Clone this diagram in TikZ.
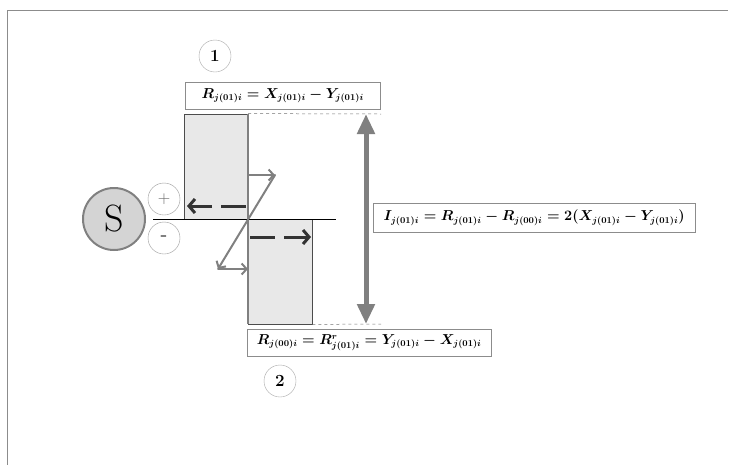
\documentclass[tikz,border=0pt]{standalone}
\usepackage{amsmath}
\usetikzlibrary{positioning, shapes, arrows.meta}

\begin{document}
\begin{tikzpicture}[x=1pt, y=-1pt,
    eqbox/.style={draw=black!45, fill=white, inner sep=0pt, minimum height=27,
        font=\boldmath\fontsize{13.5}{15}\selectfont},
    numcirc/.style={draw=black!35, circle, inner sep=0pt, minimum size=32,
        font=\bfseries\fontsize{17}{18}\selectfont},
    signcirc/.style={draw=black!40, circle, inner sep=0pt, minimum size=32,
        font=\fontsize{18}{18}\selectfont, text=black!60},
    bar/.style={draw=black!70, fill=black!9, inner sep=0pt, minimum width=64, minimum height=105},
    darrow/.style={draw=black!80, line width=3pt, dash pattern=on 25pt off 9pt,
        -{Straight Barb[length=6pt, width=14pt, line width=3pt]}},
    garrow/.style={draw=black!50, line width=2pt, line cap=round,
        -{Straight Barb[length=5pt, width=11pt, line width=2pt]}}]
    \useasboundingbox (0,0) rectangle (729,464);

    % frame
    \draw[black!45, line width=1pt] (7,470) -- (7,10) -- (728,10);

    % bars
    \node[bar, anchor=south east] (up) at (248,219) {};
    \node[bar, anchor=north west] (down) at (248,219) {};
    \draw[black!50, line width=1.5pt] (up.north east) -- (down.south west);
    \coordinate (mid) at (248,219);
    \coordinate (axisl) at (153,219);
    \coordinate (axisr) at (336,219);
    \draw[black, line width=0.8pt] (axisl) -- (axisr);

    % levels
    \coordinate (topend) at (381,114);
    \coordinate (botend) at (381,324);
    \draw[black!55, dashed, line width=0.5pt] (up.north east) -- (topend);
    \draw[black!55, dashed, line width=0.5pt] (down.south east) -- (botend);
    \coordinate (itop) at (366,114);
    \coordinate (ibot) at (366,324);
    \draw[black!50, line width=5pt,
        {Triangle[length=20pt, width=17pt]}-{Triangle[length=20pt, width=17pt]}] (itop) -- (ibot);

    % labels
    \node[eqbox, minimum width=195, anchor=north west] (r01) at (185,82)
        {$R_{j(01)i} = X_{j(01)i} - Y_{j(01)i}$};
    \node[eqbox, minimum width=244, anchor=north west] (r00) at (247,329)
        {$R_{j(00)i} = R^{r}_{j(01)i} = Y_{j(01)i} - X_{j(01)i}$};
    \node[eqbox, minimum width=322, minimum height=29, anchor=north west] (i01) at (373,203)
        {$I_{j(01)i} = R_{j(01)i} - R_{j(00)i} = 2(X_{j(01)i} - Y_{j(01)i})$};
    \node[numcirc] (n1) at (215,56) {1};
    \node[numcirc] (n2) at (280,381) {2};

    % source
    \node[draw=black!50, fill=black!17, line width=2pt, circle, minimum size=62, inner sep=0pt,
        font=\fontsize{38}{38}\selectfont] (S) at (114,219) {S};
    \node[signcirc] (plus) at (164,199) {$+$};
    \node[signcirc, font=\bfseries\fontsize{18}{18}\selectfont] (minus) at (164,238) {-};

    % shifts
    \coordinate (la) at (246,206);
    \coordinate (lb) at (187,206);
    \coordinate (ra) at (250,237);
    \coordinate (rb) at (311,237);
    \draw[darrow] (la) -- (lb);
    \draw[darrow] (ra) -- (rb);

    \coordinate (z0) at (248,175);
    \coordinate (z1) at (275,175);
    \coordinate (z2) at (218,269);
    \coordinate (z3) at (248,269);
    \draw[garrow] (z0) -- (z1);
    \draw[garrow] (z1) -- (z2);
    \draw[garrow] (z2) -- (z3);
\end{tikzpicture}
\end{document}
